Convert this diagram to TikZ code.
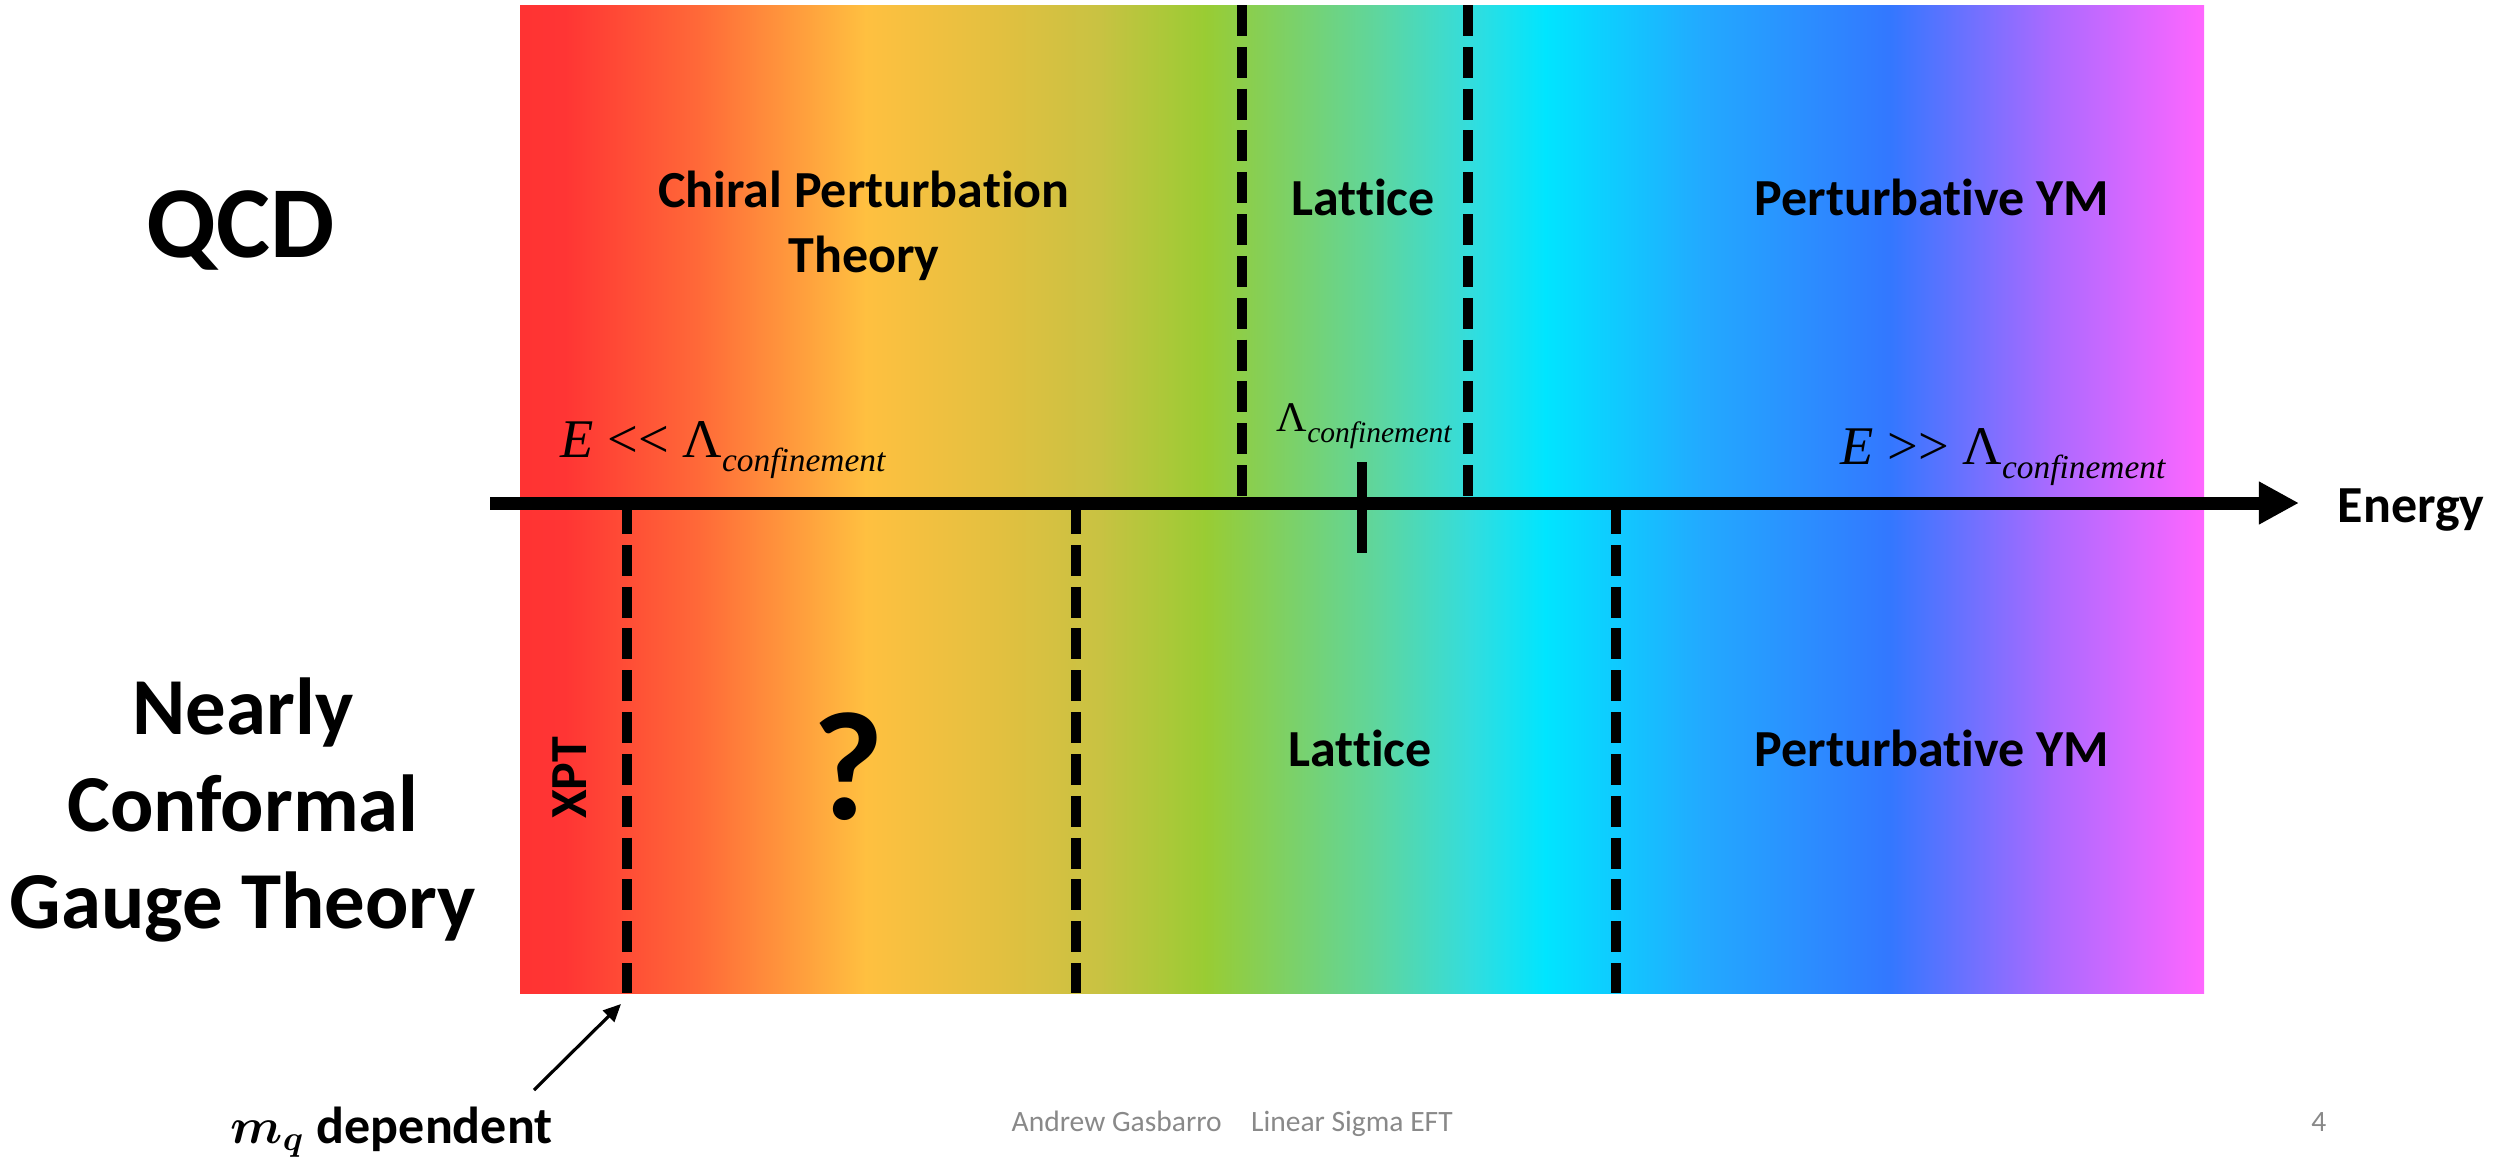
\documentclass[tikz,border=0pt]{standalone}
\usepackage{fontspec}
\setmainfont{Carlito}[Ligatures={NoCommon,NoContextual}]
\newfontfamily\timesfont{Liberation Serif}
\usepackage{bm}
\usetikzlibrary{arrows.meta, positioning}

\definecolor{g0}{HTML}{FF3333}
\definecolor{g1}{HTML}{FF3534}
\definecolor{g2}{HTML}{FF6A38}
\definecolor{g3}{HTML}{FFC040}
\definecolor{g4}{HTML}{E2C040}
\definecolor{g5}{HTML}{C8C242}
\definecolor{g6}{HTML}{99CC33}
\definecolor{g7}{HTML}{5DD6A0}
\definecolor{g8}{HTML}{33DDDD}
\definecolor{g9}{HTML}{00E5FF}
\definecolor{g10}{HTML}{22AAFF}
\definecolor{g11}{HTML}{3377FF}
\definecolor{g12}{HTML}{AA6AFF}
\definecolor{g13}{HTML}{FF66FF}
\definecolor{footgray}{HTML}{898989}

% Lambda with a lowered italic subscript
\newcommand{\lamconf}[2]{Λ\raisebox{-#2}{\fontsize{#1}{#1}\selectfont\itshape confinement}}

\begin{document}
\begin{tikzpicture}[
      x=0.1mm, y=-0.1mm,
      lbl/.style={font=\fontsize{14.8}{18.5}\selectfont\bfseries, align=center, inner sep=0pt},
      side/.style={font=\fontsize{23}{27.6}\selectfont\bfseries, align=center, inner sep=0pt},
      mth/.style={font=\timesfont\fontsize{15.5}{18}\selectfont, inner sep=0pt, anchor=base west},
      sep/.style={line width=2.85pt, dash pattern=on 8.8pt off 3.1pt},
      axis/.style={line width=3.7pt, -{Triangle[length=11.4pt, width=11.4pt]}},
      foot/.style={font=\fontsize{8.4}{10}\selectfont, text=footgray, inner sep=0pt}
    ]
      \useasboundingbox (0,0) rectangle (2502,1159);
      % colour band
      \foreach \xa/\ca/\xb/\cb in {520/g0/565/g1, 565/g1/700/g2, 700/g2/865/g3, 865/g3/1000/g4,
          1000/g4/1100/g5, 1100/g5/1205/g6, 1205/g6/1380/g7, 1380/g7/1470/g8, 1470/g8/1545/g9,
          1545/g9/1700/g10, 1700/g10/1890/g11, 1890/g11/2050/g12, 2050/g12/2203/g13}
        \shade[left color=\ca, right color=\cb] (\xa,5) rectangle ({\xb+1},993);

      % region borders
      \coordinate (qa) at (1242,5);   \coordinate (qb) at (1242,503);
      \coordinate (qc) at (1468,5);   \coordinate (qd) at (1468,503);
      \coordinate (ca) at (627,503);  \coordinate (cb) at (627,993);
      \coordinate (cc) at (1076,503); \coordinate (cd) at (1076,993);
      \coordinate (ce) at (1616,503); \coordinate (cf) at (1616,993);
      \draw[sep] (qa) -- (qb);
      \draw[sep] (qc) -- (qd);
      \draw[sep] (ca) -- (cb);
      \draw[sep] (cc) -- (cd);
      \draw[sep] (ce) -- (cf);

      % energy axis
      \coordinate (e0) at (490,503);
      \coordinate (e1) at (2299,503);
      \coordinate (ta) at (1362,462);
      \coordinate (tb) at (1362,553);
      \draw[axis] (e0) -- (e1);
      \draw[line width=2.85pt] (ta) -- (tb);
      \node[lbl, anchor=base west] (energy) at (2337,522) {Energy};

      \node[mth] (low) at (560,457) {{\itshape E} \textless\textless\ \lamconf{9.5}{4pt}};
      \node[mth] (high) at (1840,464) {{\itshape E} \textgreater\textgreater\ \lamconf{9.5}{4pt}};
      \node[mth, font=\timesfont\fontsize{12}{14}\selectfont] (mid) at (1276,431) {\lamconf{8.4}{3.4pt}};

      % theory names
      \node[font=\fontsize{29}{34}\selectfont\bfseries, inner sep=0pt] (qcd) at (241,230) {QCD};
      \node[side] (ncgt) at (243,810) {Nearly\\Conformal\\Gauge Theory};

      \node[lbl] (chpt) at (864,226) {Chiral Perturbation\\Theory};
      \node[lbl, anchor=base] (latq) at (1363,215) {Lattice};
      \node[lbl, anchor=base] (pymq) at (1932,215) {Perturbative YM};

      \node[lbl, rotate=90] (xpt) at (570,778) {XPT};
      \node[font=\fontsize{44}{50}\selectfont\bfseries, inner sep=0pt] (qm) at (848,767) {?};
      \node[lbl, anchor=base] (latc) at (1360,766) {Lattice};
      \node[lbl, anchor=base] (pymc) at (1932,766) {Perturbative YM};

      \node[lbl, anchor=base west] (mq) at (230,1143) {$\bm{m_q}$ dependent};
      \coordinate (mqt) at (534,1090);
      \coordinate (mqh) at (621,1004);
      \draw[line width=0.9pt, -{Triangle[length=5pt, width=4.5pt]}] (mqt) -- (mqh);

      \node[foot, anchor=base west] (author) at (1011,1131) {Andrew Gasbarro\quad Linear Sigma EFT};
      \node[foot, anchor=base east] (page) at (2327,1131) {4};
    \end{tikzpicture}
\end{document}
